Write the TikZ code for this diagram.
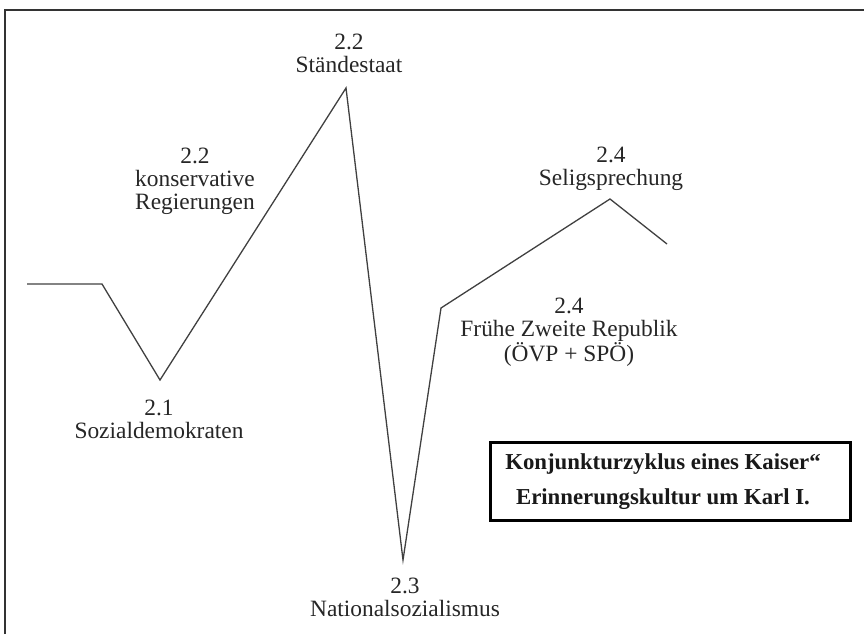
\documentclass[tikz,border=0pt]{standalone}
\usepackage{fontspec}
\setmainfont{Liberation Serif}
\begin{document}
\begin{tikzpicture}[x=1pt,y=-1pt,
  lbl/.style={align=center,inner sep=0pt,text=black!85,font=\fontsize{23.4}{23}\selectfont},
  curve/.style={draw=black!75,line width=1.3pt,line join=miter},
  frame/.style={draw=black!80,line width=1.5pt},
  titlebox/.style={draw=black,line width=3pt,inner sep=0pt,minimum width=360pt,minimum height=78pt},
  titletext/.style={align=center,inner sep=0pt,text=black!90,font=\fontsize{22.8}{35}\selectfont\bfseries}]
\useasboundingbox (0,0) rectangle (864,634);
\coordinate (fl) at (5,634);
\coordinate (tl) at (5,10);
\coordinate (tr) at (864,10);
\draw[frame] (fl) -- (tl) -- (tr);
\coordinate (p0) at (27,284);
\coordinate (p1) at (102,284);
\coordinate (p2) at (160,380);
\coordinate (p3) at (346,88);
\coordinate (p4) at (403,560);
\coordinate (p5) at (441,308);
\coordinate (p6) at (610,199);
\coordinate (p7) at (667,244);
\draw[curve] (p0) -- (p1) -- (p2) -- (p3) -- (p4) -- (p5) -- (p6) -- (p7);
\node[lbl] (staende) at (349,53) {2.2\\Ständestaat};
\node[lbl] (konserv) at (195,181) {2.2\\konservative\\Regierungen};
\node[lbl] (sozial) at (159,419) {2.1\\Sozialdemokraten};
\node[lbl] (natsoz) at (405,597) {2.3\\Nationalsozialismus};
\node[lbl] (selig) at (611,169) {2.4\\Seligsprechung};
\node[lbl] (fruehe) at (569,332) {2.4\\Frühe Zweite Republik\\(ÖVP + SPÖ)};
\node[titlebox] (title) at (670,481.5) {};
\node[titletext] (titletxt) at (663,482) {Konjunkturzyklus eines Kaiser“\\Erinnerungskultur um Karl I.};
\end{tikzpicture}
\end{document}
